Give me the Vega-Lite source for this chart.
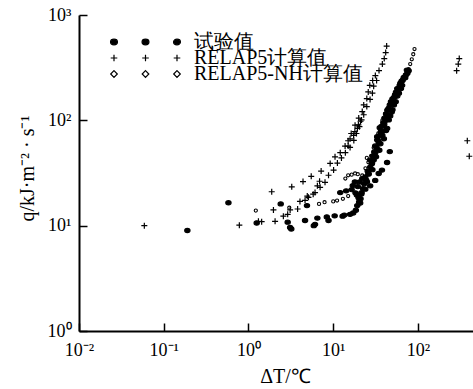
{
  "$schema": "https://vega.github.io/schema/vega-lite/v6.json",
  "width": 394,
  "height": 316,
  "autosize": {"type": "none"},
  "padding": {"left": 79, "top": 15, "right": 0, "bottom": 58},
  "background": "white",
  "config": {
    "font": "Liberation Serif",
    "view": {"stroke": null},
    "axis": {
      "grid": false,
      "domainColor": "black",
      "domainWidth": 2,
      "tickColor": "black",
      "tickWidth": 1.5,
      "tickSize": -8,
      "labelColor": "black",
      "labelFont": "Liberation Serif",
      "labelFontSize": 18,
      "labelFlush": false,
      "labelOverlap": false,
      "titleColor": "black",
      "titleFont": "Liberation Serif",
      "titleFontSize": 20,
      "titleFontWeight": "normal"
    },
    "legend": {
      "orient": "none",
      "padding": 0,
      "labelFont": "Liberation Serif",
      "labelFontSize": 20,
      "labelColor": "black",
      "labelLimit": 0,
      "labelOffset": 7,
      "symbolSize": 36,
      "symbolStrokeColor": "black",
      "symbolStrokeWidth": 1.2,
      "symbolOpacity": 1
    }
  },
  "data": {
    "values": [
      {"series": "RELAP5-NH计算值", "dT": 1.22, "q": 13.9},
      {"series": "RELAP5-NH计算值", "dT": 3.03, "q": 14.8},
      {"series": "RELAP5-NH计算值", "dT": 6.8, "q": 16.1},
      {"series": "RELAP5-NH计算值", "dT": 7.9, "q": 16.7},
      {"series": "RELAP5-NH计算值", "dT": 10.0, "q": 17.0},
      {"series": "RELAP5-NH计算值", "dT": 11.1, "q": 17.3},
      {"series": "RELAP5-NH计算值", "dT": 13.0, "q": 18.0},
      {"series": "RELAP5-NH计算值", "dT": 15.0, "q": 19.1},
      {"series": "RELAP5-NH计算值", "dT": 13.9, "q": 28},
      {"series": "RELAP5-NH计算值", "dT": 15.0, "q": 30.1},
      {"series": "RELAP5-NH计算值", "dT": 16.5, "q": 30.5},
      {"series": "RELAP5-NH计算值", "dT": 18.1, "q": 31.3},
      {"series": "RELAP5-NH计算值", "dT": 19.5, "q": 30.8},
      {"series": "RELAP5-NH计算值", "dT": 24.9, "q": 44},
      {"series": "RELAP5-NH计算值", "dT": 22, "q": 30},
      {"series": "RELAP5-NH计算值", "dT": 24, "q": 35},
      {"series": "RELAP5-NH计算值", "dT": 26, "q": 40},
      {"series": "RELAP5-NH计算值", "dT": 28, "q": 46},
      {"series": "RELAP5-NH计算值", "dT": 30, "q": 55},
      {"series": "RELAP5-NH计算值", "dT": 32, "q": 65},
      {"series": "RELAP5-NH计算值", "dT": 34, "q": 75},
      {"series": "RELAP5-NH计算值", "dT": 36, "q": 88},
      {"series": "RELAP5-NH计算值", "dT": 38, "q": 100},
      {"series": "RELAP5-NH计算值", "dT": 41, "q": 115},
      {"series": "RELAP5-NH计算值", "dT": 44, "q": 130},
      {"series": "RELAP5-NH计算值", "dT": 48, "q": 150},
      {"series": "RELAP5-NH计算值", "dT": 52, "q": 175},
      {"series": "RELAP5-NH计算值", "dT": 56, "q": 200},
      {"series": "RELAP5-NH计算值", "dT": 61, "q": 225},
      {"series": "RELAP5-NH计算值", "dT": 66, "q": 250},
      {"series": "RELAP5-NH计算值", "dT": 72, "q": 270},
      {"series": "RELAP5-NH计算值", "dT": 75.7, "q": 276},
      {"series": "RELAP5-NH计算值", "dT": 77.6, "q": 307},
      {"series": "RELAP5-NH计算值", "dT": 81, "q": 342},
      {"series": "RELAP5-NH计算值", "dT": 84.5, "q": 380},
      {"series": "RELAP5-NH计算值", "dT": 88, "q": 424},
      {"series": "RELAP5-NH计算值", "dT": 91, "q": 475},

      {"series": "RELAP5计算值", "dT": 0.059, "q": 10.0},
      {"series": "RELAP5计算值", "dT": 0.78, "q": 10.1},
      {"series": "RELAP5计算值", "dT": 1.31, "q": 11.0},
      {"series": "RELAP5计算值", "dT": 1.43, "q": 10.9},
      {"series": "RELAP5计算值", "dT": 1.88, "q": 21.0},
      {"series": "RELAP5计算值", "dT": 1.97, "q": 14.1},
      {"series": "RELAP5计算值", "dT": 2.06, "q": 11.0},
      {"series": "RELAP5计算值", "dT": 2.58, "q": 12.3},
      {"series": "RELAP5计算值", "dT": 2.9, "q": 12.8},
      {"series": "RELAP5计算值", "dT": 3.1, "q": 14.1},
      {"series": "RELAP5计算值", "dT": 3.24, "q": 23.4},
      {"series": "RELAP5计算值", "dT": 3.8, "q": 14.4},
      {"series": "RELAP5计算值", "dT": 4.05, "q": 17.0},
      {"series": "RELAP5计算值", "dT": 4.4, "q": 26.2},
      {"series": "RELAP5计算值", "dT": 4.65, "q": 17.4},
      {"series": "RELAP5计算值", "dT": 4.94, "q": 19.1},
      {"series": "RELAP5计算值", "dT": 5.1, "q": 18.6},
      {"series": "RELAP5计算值", "dT": 5.5, "q": 29.4},
      {"series": "RELAP5计算值", "dT": 5.8, "q": 19.9},
      {"series": "RELAP5计算值", "dT": 6.1, "q": 20.6},
      {"series": "RELAP5计算值", "dT": 6.5, "q": 23.9},
      {"series": "RELAP5计算值", "dT": 6.9, "q": 26.4},
      {"series": "RELAP5计算值", "dT": 7.0, "q": 23.1},
      {"series": "RELAP5计算值", "dT": 7.2, "q": 33.0},
      {"series": "RELAP5计算值", "dT": 8.0, "q": 25.8},
      {"series": "RELAP5计算值", "dT": 8.8, "q": 30.1},
      {"series": "RELAP5计算值", "dT": 9.2, "q": 39},
      {"series": "RELAP5计算值", "dT": 10.1, "q": 33.7},
      {"series": "RELAP5计算值", "dT": 10.5, "q": 45},
      {"series": "RELAP5计算值", "dT": 11.2, "q": 39.3},
      {"series": "RELAP5计算值", "dT": 12.1, "q": 49.3},
      {"series": "RELAP5计算值", "dT": 12.5, "q": 44},
      {"series": "RELAP5计算值", "dT": 13.8, "q": 57},
      {"series": "RELAP5计算值", "dT": 13.9, "q": 49.3},
      {"series": "RELAP5计算值", "dT": 15.0, "q": 57},
      {"series": "RELAP5计算值", "dT": 15.0, "q": 64},
      {"series": "RELAP5计算值", "dT": 15.8, "q": 66.8},
      {"series": "RELAP5计算值", "dT": 15.8, "q": 55.3},
      {"series": "RELAP5计算值", "dT": 16.3, "q": 75},
      {"series": "RELAP5计算值", "dT": 17.4, "q": 72},
      {"series": "RELAP5计算值", "dT": 17.5, "q": 64.4},
      {"series": "RELAP5计算值", "dT": 18.0, "q": 78},
      {"series": "RELAP5计算值", "dT": 18.1, "q": 90},
      {"series": "RELAP5计算值", "dT": 18.8, "q": 75},
      {"series": "RELAP5计算值", "dT": 19.3, "q": 84},
      {"series": "RELAP5计算值", "dT": 19.8, "q": 90.6},
      {"series": "RELAP5计算值", "dT": 20.0, "q": 105},
      {"series": "RELAP5计算值", "dT": 20.4, "q": 87},
      {"series": "RELAP5计算值", "dT": 21.0, "q": 98},
      {"series": "RELAP5计算值", "dT": 21.6, "q": 101},
      {"series": "RELAP5计算值", "dT": 22.0, "q": 121},
      {"series": "RELAP5计算值", "dT": 22.9, "q": 113},
      {"series": "RELAP5计算值", "dT": 22.9, "q": 140},
      {"series": "RELAP5计算值", "dT": 24.9, "q": 135},
      {"series": "RELAP5计算值", "dT": 24.9, "q": 161},
      {"series": "RELAP5计算值", "dT": 25.9, "q": 186},
      {"series": "RELAP5计算值", "dT": 27.2, "q": 158},
      {"series": "RELAP5计算值", "dT": 27.0, "q": 215},
      {"series": "RELAP5计算值", "dT": 29, "q": 181},
      {"series": "RELAP5计算值", "dT": 29.2, "q": 239},
      {"series": "RELAP5计算值", "dT": 30, "q": 211},
      {"series": "RELAP5计算值", "dT": 31.4, "q": 266},
      {"series": "RELAP5计算值", "dT": 32.5, "q": 239},
      {"series": "RELAP5计算值", "dT": 34.7, "q": 297},
      {"series": "RELAP5计算值", "dT": 38.0, "q": 342},
      {"series": "RELAP5计算值", "dT": 40.0, "q": 386},
      {"series": "RELAP5计算值", "dT": 41.6, "q": 440},
      {"series": "RELAP5计算值", "dT": 42.7, "q": 507},
      {"series": "RELAP5计算值", "dT": 286, "q": 296},
      {"series": "RELAP5计算值", "dT": 299, "q": 342},
      {"series": "RELAP5计算值", "dT": 307, "q": 386},
      {"series": "RELAP5计算值", "dT": 382, "q": 64},
      {"series": "RELAP5计算值", "dT": 403, "q": 45.6},

      {"series": "试验值", "dT": 0.19, "q": 9.0},
      {"series": "试验值", "dT": 0.58, "q": 16.5},
      {"series": "试验值", "dT": 1.25, "q": 10.6},
      {"series": "试验值", "dT": 2.4, "q": 16.1},
      {"series": "试验值", "dT": 2.9, "q": 10.8},
      {"series": "试验值", "dT": 3.1, "q": 9.6},
      {"series": "试验值", "dT": 3.2, "q": 9.3},
      {"series": "试验值", "dT": 4.65, "q": 11.2},
      {"series": "试验值", "dT": 4.9, "q": 15.5},
      {"series": "试验值", "dT": 5.9, "q": 10.0},
      {"series": "试验值", "dT": 6.1, "q": 10.3},
      {"series": "试验值", "dT": 6.5, "q": 11.8},
      {"series": "试验值", "dT": 8.4, "q": 12.1},
      {"series": "试验值", "dT": 8.8, "q": 11.2},
      {"series": "试验值", "dT": 10.4, "q": 12.4},
      {"series": "试验值", "dT": 12.9, "q": 12.3},
      {"series": "试验值", "dT": 13.5, "q": 12.6},
      {"series": "试验值", "dT": 15.8, "q": 12.8},
      {"series": "试验值", "dT": 17.2, "q": 13.2},
      {"series": "试验值", "dT": 18.5, "q": 14},
      {"series": "试验值", "dT": 19.2, "q": 15.5},
      {"series": "试验值", "dT": 20.2, "q": 16.8},
      {"series": "试验值", "dT": 12.1, "q": 20.6},
      {"series": "试验值", "dT": 14.2, "q": 21.4},
      {"series": "试验值", "dT": 16.5, "q": 22},
      {"series": "试验值", "dT": 18.3, "q": 20.5},
      {"series": "试验值", "dT": 17, "q": 24},
      {"series": "试验值", "dT": 19.5, "q": 23.5},
      {"series": "试验值", "dT": 18, "q": 26},
      {"series": "试验值", "dT": 21.6, "q": 20.6},
      {"series": "试验值", "dT": 23.9, "q": 22.2},
      {"series": "试验值", "dT": 27.3, "q": 23.9},
      {"series": "试验值", "dT": 31.3, "q": 26.9},
      {"series": "试验值", "dT": 34.4, "q": 31.3},
      {"series": "试验值", "dT": 37.6, "q": 33.7},
      {"series": "试验值", "dT": 43.2, "q": 39.8},
      {"series": "试验值", "dT": 46.5, "q": 50.5},
      {"series": "试验值", "dT": 20.5, "q": 26},
      {"series": "试验值", "dT": 22, "q": 28},
      {"series": "试验值", "dT": 19, "q": 19.5},
      {"series": "试验值", "dT": 21, "q": 18},
      {"series": "试验值", "dT": 19.9, "q": 18.4},
      {"series": "试验值", "dT": 20.8, "q": 16.4},
      {"series": "试验值", "dT": 21.5, "q": 20},
      {"series": "试验值", "dT": 22.5, "q": 22.5},
      {"series": "试验值", "dT": 23.2, "q": 25},
      {"series": "试验值", "dT": 24.5, "q": 27},
      {"series": "试验值", "dT": 23.9, "q": 29},
      {"series": "试验值", "dT": 26, "q": 31},
      {"series": "试验值", "dT": 25.5, "q": 33},
      {"series": "试验值", "dT": 27.3, "q": 36},
      {"series": "试验值", "dT": 27.3, "q": 42},
      {"series": "试验值", "dT": 28.6, "q": 39},
      {"series": "试验值", "dT": 29.5, "q": 46},
      {"series": "试验值", "dT": 30.5, "q": 50},
      {"series": "试验值", "dT": 31.3, "q": 57},
      {"series": "试验值", "dT": 32.5, "q": 55},
      {"series": "试验值", "dT": 33.5, "q": 65},
      {"series": "试验值", "dT": 34.4, "q": 62},
      {"series": "试验值", "dT": 35.4, "q": 72},
      {"series": "试验值", "dT": 36.5, "q": 78},
      {"series": "试验值", "dT": 35.4, "q": 85},
      {"series": "试验值", "dT": 38, "q": 88},
      {"series": "试验值", "dT": 39, "q": 95},
      {"series": "试验值", "dT": 40.2, "q": 105},
      {"series": "试验值", "dT": 41.5, "q": 100},
      {"series": "试验值", "dT": 42, "q": 115},
      {"series": "试验值", "dT": 43.5, "q": 125},
      {"series": "试验值", "dT": 45, "q": 130},
      {"series": "试验值", "dT": 46.5, "q": 140},
      {"series": "试验值", "dT": 48, "q": 150},
      {"series": "试验值", "dT": 50, "q": 126},
      {"series": "试验值", "dT": 50, "q": 160},
      {"series": "试验值", "dT": 52, "q": 165},
      {"series": "试验值", "dT": 54, "q": 173},
      {"series": "试验值", "dT": 55, "q": 185},
      {"series": "试验值", "dT": 57, "q": 200},
      {"series": "试验值", "dT": 59, "q": 195},
      {"series": "试验值", "dT": 60.8, "q": 215},
      {"series": "试验值", "dT": 62, "q": 225},
      {"series": "试验值", "dT": 64, "q": 235},
      {"series": "试验值", "dT": 66, "q": 240},
      {"series": "试验值", "dT": 68, "q": 255},
      {"series": "试验值", "dT": 70, "q": 257},
      {"series": "试验值", "dT": 72, "q": 270},
      {"series": "试验值", "dT": 75, "q": 280},
      {"series": "试验值", "dT": 77.6, "q": 296},
      {"series": "试验值", "dT": 74, "q": 300},
      {"series": "试验值", "dT": 37.6, "q": 78},
      {"series": "试验值", "dT": 31.3, "q": 49},
      {"series": "试验值", "dT": 28.6, "q": 39},
      {"series": "试验值", "dT": 26.2, "q": 31},
      {"series": "试验值", "dT": 43.3, "q": 84},
      {"series": "试验值", "dT": 39.6, "q": 66.8},
      {"series": "试验值", "dT": 45.2, "q": 101},
      {"series": "试验值", "dT": 54.6, "q": 150},
      {"series": "试验值", "dT": 59.6, "q": 181},
      {"series": "试验值", "dT": 65, "q": 215},
      {"series": "试验值", "dT": 70.7, "q": 253},
      {"series": "试验值", "dT": 33, "q": 70},
      {"series": "试验值", "dT": 36, "q": 60},
      {"series": "试验值", "dT": 30, "q": 42},
      {"series": "试验值", "dT": 40, "q": 92},
      {"series": "试验值", "dT": 42, "q": 80},
      {"series": "试验值", "dT": 47, "q": 110},
      {"series": "试验值", "dT": 52, "q": 140},
      {"series": "试验值", "dT": 57, "q": 170},
      {"series": "试验值", "dT": 63, "q": 200},
      {"series": "试验值", "dT": 25, "q": 26},
      {"series": "试验值", "dT": 29, "q": 34},
      {"series": "试验值", "dT": 32, "q": 45},
      {"series": "试验值", "dT": 35, "q": 52},
      {"series": "试验值", "dT": 38, "q": 72},
      {"series": "试验值", "dT": 44, "q": 105},
      {"series": "试验值", "dT": 49, "q": 120}
    ]
  },
  "encoding": {
    "x": {
      "field": "dT",
      "type": "quantitative",
      "scale": {"type": "log", "domain": [0.01, 446], "nice": false},
      "axis": {
        "values": [0.01, 0.1, 1, 10, 100],
        "labelExpr": "datum.value < 0.05 ? '10⁻²' : datum.value < 0.5 ? '10⁻¹' : datum.value < 5 ? '10⁰' : datum.value < 50 ? '10¹' : '10²'",
        "labelPadding": 18,
        "title": "ΔT/℃",
        "titleX": 206,
        "titleY": 45,
        "titleAlign": "center",
        "titleBaseline": "middle"
      }
    },
    "y": {
      "field": "q",
      "type": "quantitative",
      "scale": {"type": "log", "domain": [1, 1000], "nice": false},
      "axis": {
        "values": [1, 10, 100, 1000],
        "labelExpr": "datum.value < 5 ? '10⁰' : datum.value < 50 ? '10¹' : datum.value < 500 ? '10²' : '10³'",
        "labelPadding": 16,
        "labelBaseline": "middle",
        "title": "q/kJ·m⁻² · s⁻¹",
        "titleX": -52,
        "titleY": 153,
        "titleAngle": -90,
        "titleAlign": "center",
        "titleBaseline": "middle"
      }
    }
  },
  "layer": [
    {
      "transform": [{"filter": "datum.series === 'RELAP5-NH计算值'"}],
      "mark": {"type": "point", "filled": true, "opacity": 1, "stroke": "black", "strokeWidth": 1.1, "shape": "circle", "size": 10},
      "encoding": {
        "fill": {
          "datum": "RELAP5-NH计算值",
          "type": "nominal",
          "scale": {"range": ["white"]},
          "legend": {
            "title": null,
            "legendX": 88,
            "legendY": 49,
            "symbolType": "M-21,-1.1L-19.9,0L-21,1.1L-22.1,0ZM-10.5,-1.1L-9.4,0L-10.5,1.1L-11.6,0ZM0,-1.1L1.1,0L0,1.1L-1.1,0Z"
          }
        }
      }
    },
    {
      "transform": [{"filter": "datum.series === 'RELAP5计算值'"}],
      "mark": {"type": "point", "filled": true, "opacity": 1, "stroke": "black", "strokeWidth": 1.2, "shape": "M-1,0L1,0M0,-1L0,1", "size": 36},
      "encoding": {
        "fill": {
          "datum": "RELAP5计算值",
          "type": "nominal",
          "scale": {"range": ["black"]},
          "legend": {
            "title": null,
            "legendX": 88,
            "legendY": 33,
            "symbolType": "M-22.1,0L-19.9,0M-21,-1.1L-21,1.1M-11.6,0L-9.4,0M-10.5,-1.1L-10.5,1.1M-1.1,0L1.1,0M0,-1.1L0,1.1"
          }
        }
      }
    },
    {
      "transform": [{"filter": "datum.series === '试验值'"}],
      "mark": {"type": "point", "filled": true, "opacity": 1, "stroke": "black", "strokeWidth": 1.1, "shape": "M-1.2,0A1.2,0.95,0,1,0,1.2,0A1.2,0.95,0,1,0,-1.2,0Z", "size": 20},
      "encoding": {
        "fill": {
          "datum": "试验值",
          "type": "nominal",
          "scale": {"range": ["black"]},
          "legend": {
            "title": null,
            "legendX": 88,
            "legendY": 17,
            "symbolType": "M-22.15,0A1.15,0.95,0,1,0,-19.85,0A1.15,0.95,0,1,0,-22.15,0ZM-11.65,0A1.15,0.95,0,1,0,-9.35,0A1.15,0.95,0,1,0,-11.65,0ZM-1.15,0A1.15,0.95,0,1,0,1.15,0A1.15,0.95,0,1,0,-1.15,0Z"
          }
        }
      }
    }
  ],
  "resolve": {"scale": {"fill": "independent"}, "legend": {"fill": "independent"}}
}
